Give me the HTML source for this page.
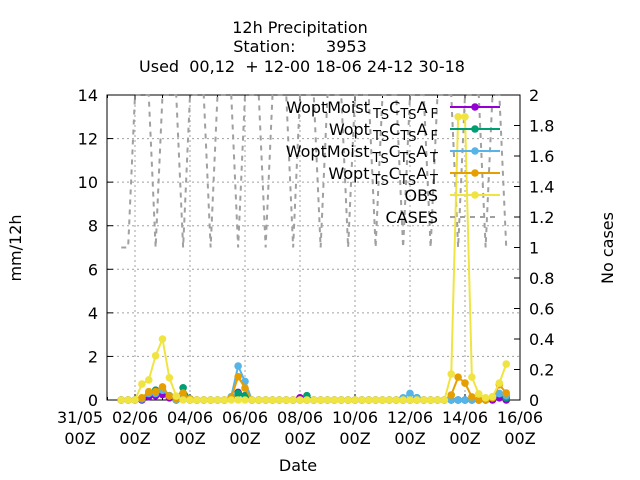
<!DOCTYPE html>
<html><head><meta charset="utf-8"><style>
body{margin:0;background:#fff}
svg{display:block;font-family:"DejaVu Sans","Liberation Sans",sans-serif}
</style></head><body>
<svg id="chart" width="640" height="480" viewBox="0 0 640 480">
<g font-size="16" text-anchor="middle" fill="#000">
<text x="300" y="33">12h Precipitation</text>
<text x="300" y="52" xml:space="preserve">Station:      3953</text>
<text x="302" y="72" xml:space="preserve">Used  00,12  + 12-00 18-06 24-12 30-18</text>
</g>
<g id="grid"></g>
<g id="axes"></g>
<g id="series"></g>
<g id="legend"></g>
<text x="298" y="471" font-size="16" text-anchor="middle">Date</text>
<text transform="translate(21,248) rotate(-90)" font-size="16" text-anchor="middle">mm/12h</text>
<text transform="translate(613,248) rotate(-90)" font-size="16" text-anchor="middle">No cases</text>
</svg>
<script>
const startHour = 36, stepHours = 6;
const xTickLabels = ["31/05","02/06","04/06","06/06","08/06","10/06","12/06","14/06","16/06"];
const yTicks = [0,2,4,6,8,10,12,14];
const y2Ticks = [0,0.2,0.4,0.6,0.8,1,1.2,1.4,1.6,1.8,2];
const obs = [0,0,0,0.73,0.92,2.03,2.8,1.02,0.18,0,0,0,0,0,0,0,0,0,0,0,0,0,0,0,0,0,0,0,0,0,0,0,0,0,0,0,0,0,0,0,0,0,0,0,0,0,0,0,1.19,13,13,1.05,0.28,0.1,0.15,0.78,1.65];
const woptT = [0,0,0,0.1,0.38,0.38,0.6,0.18,0.05,0.32,0.05,0,0,0,0,0,0.1,1.07,0.55,0,0,0,0,0,0,0,0,0,0,0,0,0,0,0,0,0,0,0,0,0,0,0,0,0,0,0,0,0,0.23,1.05,0.78,0.14,0,0,0.1,0.7,0.32];
const moistT = [0,0,0,0.05,0.3,0.3,0.45,0.2,0,0.2,0,0,0,0,0,0,0.15,1.56,0.85,0,0,0,0,0,0,0,0,0,0,0,0,0,0,0,0,0,0,0,0,0,0,0.1,0.3,0.1,0,0,0,0,0,0,0,0,0,0,0.1,0.3,0.2];
const woptF = [0,0,0,0.05,0.3,0.45,0.45,0.2,0,0.56,0.05,0,0,0,0,0,0.05,0.3,0.2,0,0,0,0,0,0,0,0,0.2,0,0,0,0,0,0,0,0,0,0,0,0,0,0,0,0.1,0,0,0,0,0,0,0,0,0,0,0.1,0.28,0.1];
const moistF = [0,0,0,0,0.15,0.2,0.25,0.1,0,0.1,0,0,0,0,0,0,0.05,0.35,0.2,0,0,0,0,0,0,0,0.1,0,0,0,0,0,0,0,0,0,0,0,0,0,0,0,0,0,0,0,0,0,0,0,0,0,0,0,0,0.1,0];
const cases = [1,1,2,2,2,1,2,2,2,1,2,2,2,1,2,2,2,1,2,2,2,1,2,2,2,1,2,2,2,1,2,2,2,1,2,2,2,1,2,2,2,1,2,2,2,1,2,2,2,1,2,2,2,1,2,2,1];
const legendLabels = [["WoptMoist","F"],["Wopt","F"],["WoptMoist","T"],["Wopt","T"],["OBS",null],["CASES",null]];

const NS="http://www.w3.org/2000/svg";
const L=107,R=520,T=95,B=400;
const xOf=h=>80+h*440/384;
const yOf=v=>B-v*(B-T)/14;
const y2Of=v=>B-v*(B-T)/2;
function mk(tag,attrs,parent){const e=document.createElementNS(NS,tag);for(const k in attrs)e.setAttribute(k,attrs[k]);parent.appendChild(e);return e;}
const grid=document.getElementById('grid'),axes=document.getElementById('axes'),ser=document.getElementById('series'),leg=document.getElementById('legend');
yTicks.forEach(v=>{const y=yOf(v);
 if(v>0&&v<14){const g=mk('line',{x1:L,x2:R,y1:y,y2:y,stroke:'#a0a0a0','stroke-dasharray':'2,3'},grid);}
 mk('line',{x1:L,x2:L+6,y1:y,y2:y,stroke:'#000'},axes);
 const t=mk('text',{x:L-9,y:y+6,'font-size':16,'text-anchor':'end'},axes);t.textContent=v;
 });
y2Ticks.forEach(v=>{const y=y2Of(v);
 mk('line',{x1:R-6,x2:R,y1:y,y2:y,stroke:'#000'},axes);
 const t=mk('text',{x:R+9,y:y+6,'font-size':16},axes);t.textContent=String(v);
 });
xTickLabels.forEach((s,i)=>{const x=xOf(i*48);
 if(x>L&&x<R){const g=mk('line',{x1:x,x2:x,y1:T,y2:B,stroke:'#a0a0a0','stroke-dasharray':'2,3'},grid);}
 if(x>=L){mk('line',{x1:x,x2:x,y1:B,y2:B-6,stroke:'#000'},axes);mk('line',{x1:x,x2:x,y1:T,y2:T+6,stroke:'#000'},axes);}
 const t=mk('text',{x:x,y:423,'font-size':16,'text-anchor':'middle'},axes);t.textContent=s;
 
 const t2=mk('text',{x:x,y:444,'font-size':16,'text-anchor':'middle'},axes);t2.textContent='00Z';
 });
for(let d=1;d<16;d+=2){const x=xOf(d*24);if(x>L){mk('line',{x1:x,x2:x,y1:B,y2:B-3,stroke:'#000'},axes);mk('line',{x1:x,x2:x,y1:T,y2:T+3,stroke:'#000'},axes);}}
const frame=mk('rect',{x:L,y:T,width:R-L,height:B-T,fill:'none',stroke:'#000'},axes);

const cp=cases.map((v,i)=>xOf(startHour+i*stepHours)+','+y2Of(v)).join(' ');
const cl=mk('polyline',{points:cp,fill:'none',stroke:'#a0a0a0','stroke-width':2,'stroke-dasharray':'5,5'},ser);

const defs=[[moistF,'#9400d3','woptmoist-f'],[woptF,'#009e73','wopt-f'],[moistT,'#56b4e9','woptmoist-t'],[woptT,'#e69f00','wopt-t'],[obs,'#f0e442','obs']];
defs.forEach(([arr,c,n])=>{
 const g=mk('g',{},ser);
 mk('polyline',{points:arr.map((v,i)=>xOf(startHour+i*stepHours)+','+yOf(v)).join(' '),fill:'none',stroke:c,'stroke-width':2},g);
 arr.forEach((v,i)=>{const p=mk('circle',{cx:xOf(startHour+i*stepHours),cy:yOf(v),r:3.8,fill:c},g);
  });
});
const lc=['#9400d3','#009e73','#56b4e9','#e69f00','#f0e442','#a0a0a0'];
legendLabels.forEach((lab,i)=>{const y=107+i*22;
 const g=mk('g',{},leg);
 const t=mk('text',{x:438,y:y+6,'font-size':16,'text-anchor':'end'},g);
 if(lab[1]){t.innerHTML=lab[0]+'<tspan dy="5" font-size="13" dx="3">T</tspan><tspan dy="1" font-size="13">S</tspan><tspan dy="-6">C</tspan><tspan dy="5" font-size="13">T</tspan><tspan dy="1" font-size="13">S</tspan><tspan dy="-6">A</tspan><tspan dy="5" font-size="13" dx="3">'+lab[1]+'</tspan>';}
 else t.textContent=lab[0];
 if(i<5){mk('line',{x1:450,x2:500,y1:y,y2:y,stroke:lc[i],'stroke-width':2},g);mk('circle',{cx:475,cy:y,r:3.8,fill:lc[i]},g);}
 else mk('line',{x1:450,x2:500,y1:y,y2:y,stroke:lc[i],'stroke-width':2,'stroke-dasharray':'5,5'},g);
});
</script>
</body></html>
